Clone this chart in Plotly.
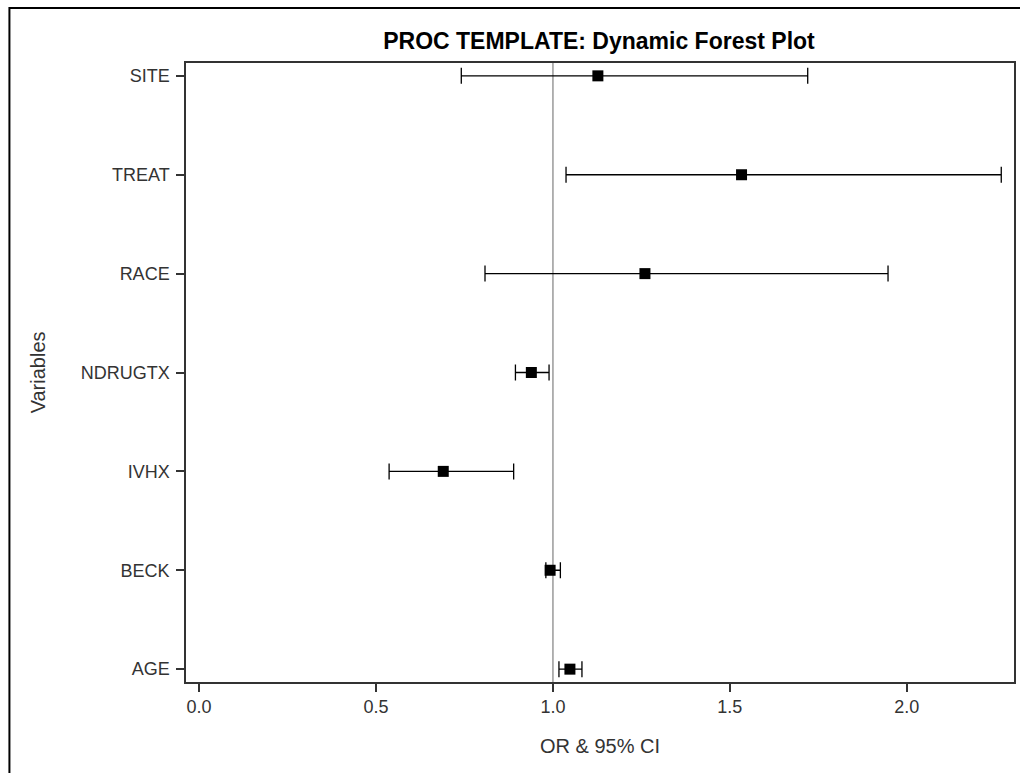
import plotly.graph_objects as go

variables = ["SITE", "TREAT", "RACE", "NDRUGTX", "IVHX", "BECK", "AGE"]
odds_ratio = [1.127, 1.533, 1.260, 0.939, 0.690, 0.992, 1.048]
lower_ci = [0.741, 1.037, 0.808, 0.894, 0.537, 0.980, 1.017]
upper_ci = [1.720, 2.267, 1.947, 0.989, 0.889, 1.021, 1.082]
x_ticks = [0.0, 0.5, 1.0, 1.5, 2.0]
x_tick_labels = ["0.0", "0.5", "1.0", "1.5", "2.0"]

err_plus = [u - o for u, o in zip(upper_ci, odds_ratio)]
err_minus = [o - l for o, l in zip(odds_ratio, lower_ci)]

fig = go.Figure()
fig.add_trace(go.Scatter(
    x=odds_ratio, y=variables, mode="markers",
    marker=dict(symbol="square", size=11, color="black"),
    error_x=dict(type="data", array=err_plus, arrayminus=err_minus,
                 color="black", thickness=1.3, width=8, visible=True),
    showlegend=False, hoverinfo="x+y",
))

L, R, T, B = 186, 4, 63, 91
W, H = 1020, 773
pw, ph = W - L - R, H - T - B

def px2paper_x(p):
    return (p - L) / pw

def px2paper_y(p):
    return (H - B - p) / ph

shapes = [
    dict(type="line", xref="x", yref="paper", x0=1.0, x1=1.0, y0=0, y1=1,
         line=dict(color="#999999", width=1.5), layer="below"),
    dict(type="rect", xref="paper", yref="paper",
         x0=px2paper_x(9), x1=px2paper_x(1030), y0=px2paper_y(8), y1=px2paper_y(790),
         line=dict(color="black", width=2), fillcolor="rgba(0,0,0,0)"),
]

font_family = "Liberation Sans, Arial, sans-serif"

annotations = [
    dict(text="OR &amp; 95% CI", xref="paper", yref="paper",
         x=px2paper_x(601), y=px2paper_y(746), xanchor="center", yanchor="middle",
         showarrow=False, font=dict(family=font_family, size=20, color="#333333")),
    dict(text="Variables", xref="paper", yref="paper", textangle=-90,
         x=px2paper_x(38), y=px2paper_y(372), xanchor="center", yanchor="middle",
         showarrow=False, font=dict(family=font_family, size=20, color="#333333")),
]

fig.update_layout(
    width=W, height=H,
    margin=dict(l=L, r=R, t=T, b=B),
    paper_bgcolor="white", plot_bgcolor="white",
    font=dict(family=font_family, size=18, color="#333333"),
    title=dict(text="<b>PROC TEMPLATE: Dynamic Forest Plot</b>",
               x=px2paper_x(600), xref="paper", xanchor="center",
               y=1 - 41 / H, yanchor="middle",
               font=dict(family=font_family, size=23, color="black")),
    shapes=shapes,
    annotations=annotations,
    xaxis=dict(range=[-0.037, 2.303], tickvals=x_ticks, ticktext=x_tick_labels,
               showgrid=False, zeroline=False, showline=True, mirror=True,
               linecolor="#333333", linewidth=1.5, ticks="outside", ticklen=8,
               tickcolor="#333333", tickwidth=1.5,
               tickfont=dict(size=18, color="#333333")),
    yaxis=dict(categoryorder="array", categoryarray=variables[::-1],
               range=[-0.13, 6.13], showgrid=False, zeroline=False,
               showline=True, mirror=True, linecolor="#333333", linewidth=1.5,
               ticks="outside", ticklen=8, tickcolor="#333333", tickwidth=1.5,
               ticklabelstandoff=3,
               tickfont=dict(size=18, color="#333333")),
)

fig.write_html("out.html", config={"displayModeBar": False})

with open("out.html", "r", encoding="utf-8") as f:
    html = f.read()
html = html.replace("<head>", "<head><style>html,body{margin:0;padding:0;overflow:hidden;}</style>", 1)
with open("out.html", "w", encoding="utf-8") as f:
    f.write(html)
